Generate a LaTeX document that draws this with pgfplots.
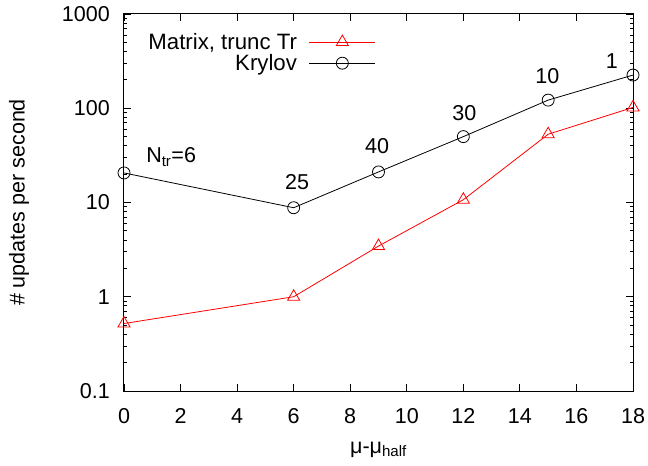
\documentclass[border=0pt]{standalone}
\usepackage{fontspec}
\setmainfont{Liberation Sans}
\usepackage{pgfplots}
\pgfplotsset{compat=1.18}
\definecolor{gpred}{RGB}{255,0,0}
\newcommand{\gpfont}{\fontsize{21.6}{25}\selectfont}
\newcommand{\legfont}{\fontsize{22.3}{25}\selectfont}

\begin{document}
\begin{tikzpicture}[font=\gpfont]
\begin{semilogyaxis}[
scale only axis,
width=509bp,height=377bp,
xmin=0,xmax=18,ymin=0.1,ymax=1000,
xtick={0,2,...,18},
ytick={0.1,1,10,100,1000},
yticklabels={0.1,1,10,100,1000},
/pgf/number format/assume math mode=true,
tick label style={font=\gpfont},
xticklabel style={anchor=base,yshift=-32bp},
yticklabel style={anchor=east,inner sep=0pt,xshift=-14bp},
tick align=inside,
major tick length=7bp,minor tick length=3.5bp,
axis line style={line width=1bp},
every tick/.style={black,line width=0.8bp},
xlabel={μ-μ\textsubscript{half}},
ylabel={\# updates per second},
every axis x label/.style={at={(axis description cs:0.5,-0.1645)},anchor=base,font=\gpfont},
every axis y label/.style={at={(axis description cs:-0.206,0.5)},rotate=90,anchor=center,font=\gpfont},
legend plot pos=right,
legend cell align=right,
legend style={draw=none,fill=none,at={(axis description cs:0.495,0.952)},anchor=north east,
  inner sep=0pt,row sep=1.5bp,font=\legfont,nodes={inner sep=1bp},
  /tikz/every odd column/.append style={column sep=11bp}},
legend image code/.code={\draw[mark repeat=2,mark phase=2,#1] plot coordinates {(0bp,0bp) (33bp,0bp) (66bp,0bp)};},
clip=false]
\addplot[gpred,line width=0.8bp,mark=triangle,mark size=7bp,mark options={solid}] coordinates {
(0,0.52) (6,1.0) (9,3.45) (12,10.7) (15,53) (18,102)};
\addlegendentry{Matrix, trunc Tr}
\addplot[black,line width=0.8bp,mark=o,mark size=6bp] coordinates {
(0,20.6) (6,8.8) (9,21.1) (12,50) (15,122) (18,225)};
\addlegendentry{Krylov}
\node[anchor=base west,inner sep=0pt,font=\gpfont] at (axis cs:0.78,26.3) {N\textsubscript{tr}=6};
\node[anchor=base,font=\gpfont] at (axis cs:6.12,13.9) {25};
\node[anchor=base,font=\gpfont] at (axis cs:8.95,33.5) {40};
\node[anchor=base,font=\gpfont] at (axis cs:12.04,75) {30};
\node[anchor=base,font=\gpfont] at (axis cs:14.97,185) {10};
\node[anchor=base,font=\gpfont] at (axis cs:17.25,261) {1};
\coordinate (bl) at (rel axis cs:0,0);
\coordinate (tr) at (rel axis cs:1,1);
\end{semilogyaxis}
\pgfresetboundingbox
\path[use as bounding box] ([xshift=-124bp,yshift=-75bp]bl) rectangle ([xshift=15bp,yshift=14bp]tr);
\end{tikzpicture}
\end{document}
